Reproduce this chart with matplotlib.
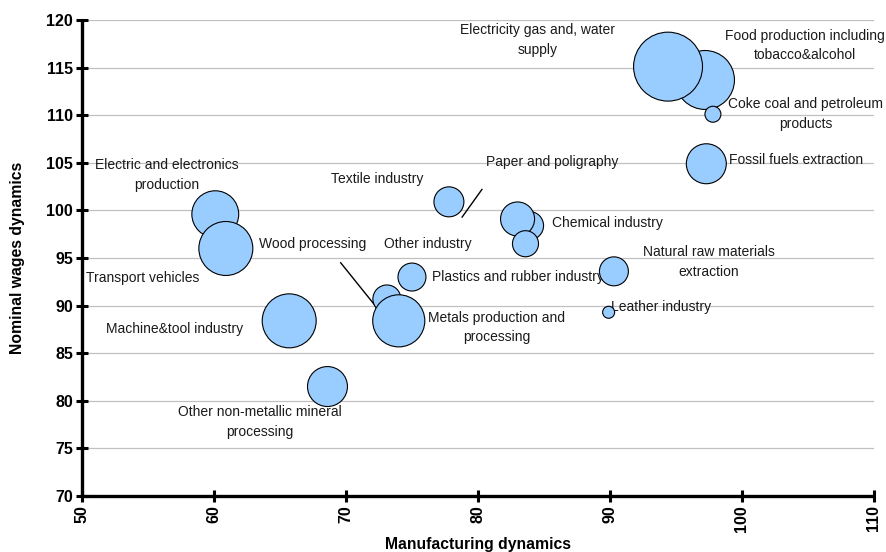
import matplotlib
matplotlib.use("Agg")
import matplotlib.pyplot as plt

plt.rcParams["font.family"] = ["Liberation Sans", "DejaVu Sans"]

# Industry data: manufacturing dynamics (x), nominal wages dynamics (y), bubble weight
industries = [
    "Food production including tobacco&alcohol",
    "Electricity gas and, water supply",
    "Coke coal and petroleum products",
    "Fossil fuels extraction",
    "Chemical industry",
    "Paper and poligraphy",
    "Other industry",
    "Textile industry",
    "Electric and electronics production",
    "Wood processing",
    "Natural raw materials extraction",
    "Plastics and rubber industry",
    "Transport vehicles",
    "Metals production and processing",
    "Leather industry",
    "Machine&tool industry",
    "Other non-metallic mineral processing",
]
manufacturing = [97.2, 94.4, 97.8, 97.3, 83.9, 83.0, 83.6, 77.8, 60.1, 60.9,
                 90.3, 75.0, 73.1, 74.0, 89.9, 65.7, 68.6]
wages = [113.7, 115.1, 110.1, 104.9, 98.4, 99.1, 96.5, 100.9, 99.6, 96.0,
         93.6, 93.0, 90.7, 88.4, 89.3, 88.4, 81.5]
weight = [87, 119, 6.4, 40, 20, 29, 17, 22.5, 55, 73,
          21, 19.6, 19.6, 68, 3.6, 73, 40]

# Label text and anchor positions in data coordinates
labels = [
    ("Food production including\ntobacco&alcohol", 104.8, 117.3, "center"),
    ("Electricity gas and, water\nsupply", 84.5, 117.9, "center"),
    ("Coke coal and petroleum\nproducts", 104.85, 110.1, "center"),
    ("Fossil fuels extraction", 99.0, 105.3, "left"),
    ("Chemical industry", 85.6, 98.7, "left"),
    ("Paper and poligraphy", 85.6, 105.1, "center"),
    ("Other industry", 76.2, 96.5, "center"),
    ("Textile industry", 72.35, 103.3, "center"),
    ("Electric and electronics\nproduction", 56.4, 103.7, "center"),
    ("Wood processing", 63.4, 96.5, "left"),
    ("Natural raw materials\nextraction", 97.5, 94.6, "center"),
    ("Plastics and rubber industry", 83.0, 93.0, "center"),
    ("Transport vehicles", 54.6, 92.9, "center"),
    ("Metals production and\nprocessing", 81.4, 87.7, "center"),
    ("Leather industry", 93.9, 89.85, "center"),
    ("Machine&tool industry", 57.0, 87.55, "center"),
    ("Other non-metallic mineral\nprocessing", 63.5, 77.8, "center"),
]

# Leader lines (x0, y0, x1, y1)
leaders = [
    (78.8, 99.3, 80.3, 102.2),
    (69.6, 94.5, 72.3, 89.85),
]

fig = plt.figure(figsize=(8.87, 5.52), dpi=100)
ax = fig.add_axes([0.0924, 0.1014, 0.8929, 0.8624])

ax.set_xlim(50, 110)
ax.set_ylim(70, 120)
ax.set_xticks(range(50, 111, 10))
ax.set_yticks(range(70, 121, 5))

ax.yaxis.grid(True, color="#c0c0c0", linewidth=0.9)
ax.set_axisbelow(True)

for name in ("top", "right"):
    ax.spines[name].set_visible(False)
for name in ("left", "bottom"):
    ax.spines[name].set_linewidth(2.4)
    ax.spines[name].set_color("black")
    ax.spines[name].set_capstyle("butt")

ax.tick_params(axis="both", direction="inout", length=9, width=2.2,
               color="black", labelsize=11.5, pad=2)
ax.tick_params(axis="x", labelrotation=90)
for t in ax.get_xticklabels() + ax.get_yticklabels():
    t.set_fontweight("bold")

for txt, lx, ly, ha in labels:
    ax.text(lx, ly, txt, ha=ha, va="center", fontsize=10,
            color="#1a1a1a", linespacing=1.5, zorder=2)

for x0, y0, x1, y1 in leaders:
    ax.plot([x0, x1], [y0, y1], color="black", linewidth=1.0, zorder=2)

sizes = [w * 20.7 for w in weight]
ax.scatter(manufacturing, wages, s=sizes, c="#99ccff", edgecolors="black",
           linewidths=0.8, zorder=3, clip_on=False)

ax.set_xlabel("Manufacturing dynamics", fontsize=11.3, fontweight="bold")
ax.set_ylabel("Nominal wages dynamics", fontsize=11.3, fontweight="bold")
ax.xaxis.set_label_coords(0.5, -0.087)
ax.yaxis.set_label_coords(-0.072, 0.5)

fig.savefig("out.png", dpi=100)
